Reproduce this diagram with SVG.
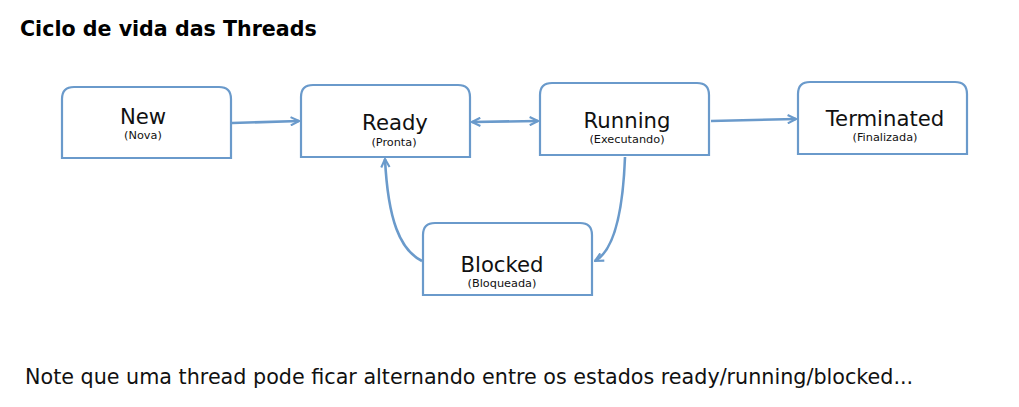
<svg xmlns="http://www.w3.org/2000/svg" width="1019" height="407" viewBox="0 0 1019 407">
<defs>
<style>
.box{fill:#ffffff;stroke:#6a9acb;stroke-width:2.2}
.con{fill:none;stroke:#6a9acb;stroke-width:2.6}
.t{font-family:"DejaVu Sans",Verdana,sans-serif;fill:#111;text-anchor:middle}
.main{font-size:21.2px}
.sub{font-size:11.3px}
</style>
<marker id="ah" viewBox="0 0 10 10" refX="9" refY="5" markerWidth="4" markerHeight="4" orient="auto-start-reverse" markerUnits="strokeWidth">
<path d="M1,1 L9,5 L1,9" fill="none" stroke="#6a9acb" stroke-width="2"/>
</marker>
</defs>
<rect width="1019" height="407" fill="#ffffff"/>
<text x="20" y="36" font-family="DejaVu Sans,Verdana,sans-serif" font-weight="bold" font-size="20.6" fill="#000">Ciclo de vida das Threads</text>
<g id="connectors">
<path class="con" d="M232,123 L299,121" marker-end="url(#ah)"/>
<path class="con" d="M472,122 L538,121" marker-start="url(#ah)" marker-end="url(#ah)"/>
<path class="con" d="M711,121 L796,119" marker-end="url(#ah)"/>
<path class="con" d="M625,157 C623,210 615,250 595,261" marker-end="url(#ah)"/>
<path class="con" d="M422,261 C400,250 388,220 385,159" marker-end="url(#ah)"/>
</g>
<g id="new">
<path class="box" d="M62,158 L62,99 Q62,87 74,87 L219,87 Q231,87 231,99 L231,158 Z"/>
<text class="t main" x="143" y="124">New</text>
<text class="t sub" x="143" y="139">(Nova)</text>
</g>
<g id="ready">
<path class="box" d="M301,157 L301,97 Q301,85 313,85 L458,85 Q470,85 470,97 L470,157 Z"/>
<text class="t main" x="395" y="130">Ready</text>
<text class="t sub" x="394" y="146">(Pronta)</text>
</g>
<g id="running">
<path class="box" d="M540,155 L540,95 Q540,83 552,83 L697,83 Q709,83 709,95 L709,155 Z"/>
<text class="t main" x="627" y="128">Running</text>
<text class="t sub" x="627" y="143">(Executando)</text>
</g>
<g id="terminated">
<path class="box" d="M798,154 L798,94 Q798,82 810,82 L955,82 Q967,82 967,94 L967,154 Z"/>
<text class="t main" x="885" y="126">Terminated</text>
<text class="t sub" x="885" y="141">(Finalizada)</text>
</g>
<g id="blocked">
<path class="box" d="M423,295 L423,235 Q423,223 435,223 L580,223 Q592,223 592,235 L592,295 Z"/>
<text class="t main" x="502" y="272">Blocked</text>
<text class="t sub" x="502" y="287">(Bloqueada)</text>
</g>
<text x="25" y="384" font-family="DejaVu Sans,Verdana,sans-serif" font-size="20.7" fill="#111">Note que uma thread pode ficar alternando entre os estados ready/running/blocked...</text>
</svg>
